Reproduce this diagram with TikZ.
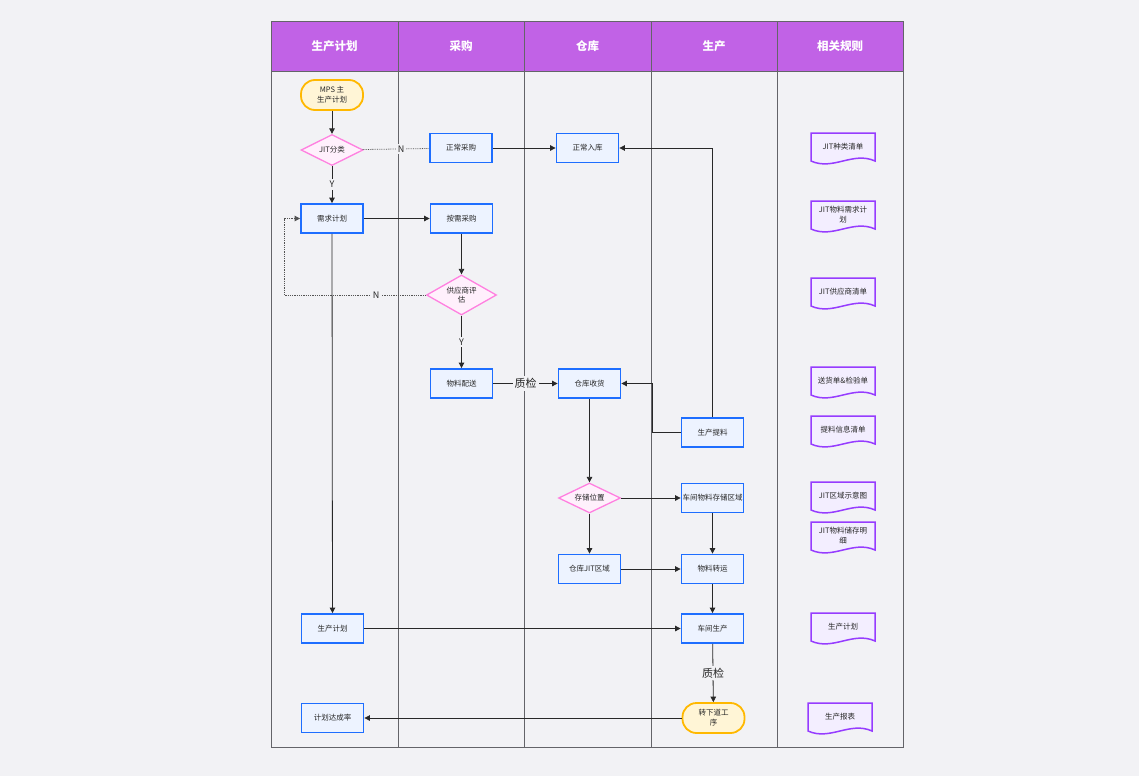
\documentclass[tikz,border=0pt]{standalone}
\usepackage{fontspec}
\setmainfont{Noto Sans CJK SC}
\usetikzlibrary{shapes.geometric,arrows.meta,positioning}
\definecolor{bg}{RGB}{242,242,245}
\definecolor{hdr}{RGB}{193,98,230}
\definecolor{pblue}{RGB}{30,110,255}
\definecolor{pfill}{RGB}{237,243,255}
\definecolor{dpink}{RGB}{255,128,224}
\definecolor{dfill}{RGB}{255,240,252}
\definecolor{tyel}{RGB}{255,184,0}
\definecolor{tfill}{RGB}{255,245,214}
\definecolor{docp}{RGB}{150,60,255}
\definecolor{docf}{RGB}{243,238,255}
\definecolor{lanel}{RGB}{100,100,105}
\definecolor{conn}{RGB}{40,40,40}
\tikzset{
  proc/.style={rectangle,draw=pblue,fill=pfill,line width=1.8pt,minimum width=62pt,minimum height=29pt,inner sep=1pt,font=\fontsize{7.5}{9}\selectfont,text=black!85},
  dec/.style={diamond,draw=dpink,fill=dfill,line width=1.3pt,inner sep=0pt,shape aspect=2,minimum width=62pt,minimum height=31pt,font=\fontsize{7.5}{9}\selectfont,align=center,text=black!85},
  term/.style={rectangle,rounded corners=14pt,draw=tyel,fill=tfill,line width=1.8pt,minimum width=62pt,minimum height=30pt,inner sep=1pt,font=\fontsize{7.5}{10}\selectfont,align=center,text=black!85},
  doct/.style={inner sep=0pt,font=\fontsize{7.5}{10}\selectfont,align=center,text=black!85},
  docb/.style={draw=docp,fill=docf,line width=1.5pt},
  hdrt/.style={font=\bfseries\fontsize{11.5}{13}\selectfont,text=white},
  arr/.style={draw=conn,line width=0.8pt,-{Triangle[length=5.5pt,width=5.5pt]}},
  dotl/.style={draw=conn!80,line width=0.8pt,densely dotted},
  lab/.style={fill=bg,inner sep=2pt,font=\fontsize{9}{10}\selectfont,text=black!85},
  labbig/.style={fill=bg,inner sep=2pt,font=\fontsize{11}{12}\selectfont,text=black!85},
  lane/.style={draw=lanel,line width=0.8pt}
}
\newcommand{\docnode}[4]{%
  \filldraw[docb] (#2-32,#3-16) -- (#2+32,#3-16) -- (#2+32,#3+12) .. controls (#2+10,#3+2) and (#2-10,#3+22) .. (#2-32,#3+12) -- cycle;
  \node[doct] (#1) at (#2,#3-2) {#4};}
\begin{document}
\begin{tikzpicture}[x=1pt,y=-1pt]
\fill[bg] (0,0) rectangle (1139,776);
\useasboundingbox (0,0) rectangle (1139,776);
% header
\fill[hdr] (271,22) rectangle (903,71);
\draw[lane] (271,71) -- (903,71);
\foreach \xx in {398,524,651,777} { \draw[lane] (\xx,22) -- (\xx,747); }
\draw[draw=lanel,line width=1pt] (271,22) rectangle (903,747);
\node[hdrt] (h1) at (334.5,46) {生产计划};
\node[hdrt] (h2) at (461,46) {采购};
\node[hdrt] (h3) at (587.5,46) {仓库};
\node[hdrt] (h4) at (714,46) {生产};
\node[hdrt] (h5) at (840,46) {相关规则};
% nodes
\node[term] (mps) at (332,95) {MPS 主\\生产计划};
\node[dec] (jit) at (332,150) {JIT分类};
\node[proc] (zccg) at (461,148) {正常采购};
\node[proc] (zcrk) at (587.5,148) {正常入库};
\node[proc] (xqjh) at (332,218.5) {需求计划};
\node[proc] (axcg) at (461.5,218.5) {按需采购};
\node[dec,shape aspect=1.75,minimum width=70pt,minimum height=40pt] (gys) at (461.5,295) {供应商评\\估};
\node[proc] (wlps) at (461.5,383.5) {物料配送};
\node[proc] (cksh) at (589.5,383.5) {仓库收货};
\node[proc] (sctl) at (712.5,432.5) {生产提料};
\node[dec,minimum height=30pt] (ccwz) at (589.5,498) {存储位置};
\node[proc] (cjcc) at (712.5,498) {车间物料存储区域};
\node[proc] (ckjit) at (589.5,569) {仓库JIT区域};
\node[proc] (wlzy) at (712.5,569) {物料转运};
\node[proc] (scjh) at (332.5,628.5) {生产计划};
\node[proc] (cjsc) at (712.5,628.5) {车间生产};
\node[term] (zxd) at (713.5,718) {转下道工\\序};
\node[proc] (jhdc) at (332.5,718) {计划达成率};
% documents
\docnode{d1}{843}{149}{JIT种类清单}
\docnode{d2}{843}{217}{JIT物料需求计\\划}
\docnode{d3}{843}{294}{JIT供应商清单}
\docnode{d4}{843}{383}{送货单\&检验单}
\docnode{d5}{843}{432}{提料信息清单}
\docnode{d6}{843}{498}{JIT区域示意图}
\docnode{d7}{843}{538}{JIT物料储存明\\细}
\docnode{d8}{843}{629}{生产计划}
\docnode{d9}{840}{719}{生产报表}
% connectors
\coordinate (c1) at (284,295);
\coordinate (c2) at (652,432.5);
\draw[arr] (mps) -- (jit);
\draw[dotl] (jit) -- node[lab,pos=0.58]{N} (zccg);
\draw[arr] (jit) -- node[lab]{Y} (xqjh);
\draw[arr] (zccg) -- (zcrk);
\draw[arr] (sctl.north) |- (zcrk.east);
\draw[arr] (xqjh) -- (axcg);
\draw[arr] (axcg) -- (gys);
\draw[dotl,-{Triangle[length=5.5pt,width=5.5pt]}] (gys.west) -- node[lab,pos=0.35]{N} (c1) |- (xqjh.west);
\draw[arr] (gys) -- node[lab]{Y} (wlps);
\draw[arr] (wlps) -- node[labbig]{质检} (cksh);
\draw[arr] (sctl.west) -- (c2) |- (cksh.east);
\draw[arr] (cksh) -- (ccwz);
\draw[arr] (ccwz) -- (cjcc);
\draw[arr] (ccwz) -- (ckjit);
\draw[arr] (cjcc) -- (wlzy);
\draw[arr] (ckjit) -- (wlzy);
\draw[arr] (wlzy) -- (cjsc);
\draw[arr] (xqjh) -- (scjh);
\draw[arr] (scjh) -- (cjsc);
\draw[arr] (cjsc) -- node[labbig]{质检} (zxd);
\draw[arr] (zxd) -- (jhdc);
\end{tikzpicture}
\end{document}
